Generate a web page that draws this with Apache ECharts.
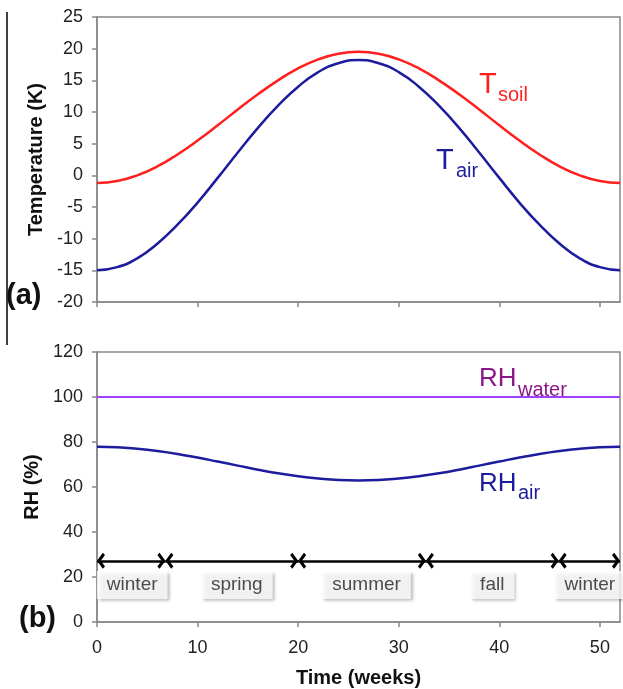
<!DOCTYPE html>
<html>
<head>
<meta charset="utf-8">
<script src="https://cdn.jsdelivr.net/npm/echarts@6/dist/echarts.min.js"></script>
<style>
  html, body { margin: 0; padding: 0; background: #fff; }
  #chart { width: 623px; height: 689px; }
</style>
</head>
<body>
<div id="chart"></div>
<script>
// values (every 2 weeks)
const weeks = [0, 2, 4, 6, 8, 10, 12, 14, 16, 18, 20, 22, 24, 26, 28, 30, 32, 34, 36, 38, 40, 42, 44, 46, 48, 50, 52];
const tAir = [-15.0, -14.5, -13.1, -10.8, -7.8, -4.3, -0.4, 3.6, 7.5, 11.0, 14.0, 16.3, 17.7, 18.2, 17.7, 16.3, 14.0, 11.0, 7.5, 3.6, -0.4, -4.3, -7.8, -10.8, -13.1, -14.5, -15.0];
const tSoil = [-1.2, -0.9, 0.0, 1.4, 3.3, 5.5, 7.9, 10.4, 12.8, 15.0, 16.9, 18.3, 19.2, 19.5, 19.2, 18.3, 16.9, 15.0, 12.8, 10.4, 7.9, 5.5, 3.3, 1.4, 0.0, -0.9, -1.2];
const rhAir = [77.9, 77.7, 77.0, 76.0, 74.7, 73.1, 71.3, 69.5, 67.7, 66.1, 64.8, 63.8, 63.1, 62.9, 63.1, 63.8, 64.8, 66.1, 67.7, 69.5, 71.3, 73.1, 74.7, 76.0, 77.0, 77.7, 77.9];
const rhWaterWeeks = [0, 52];
const rhWater = [100, 100];

const seasonBounds = [0, 6.8, 20, 32.7, 45.9, 52];
const seasonNames = ['winter', 'spring', 'summer', 'fall', 'winter'];
const seasonLabelWeeks = [3.5, 13.9, 26.8, 39.3, 49.0];
const arrowLevel = 27.2;
const labelLevel = 16.4;

const weekTicks = [0, 10, 20, 30, 40, 50];

const font = 'Liberation Sans, Arial, sans-serif';
const axisGray = '#888';
const red = '#ff1f1f';
const blue = '#1c1c9c';
const violet = '#a040ff';
const purple = '#8a178a';

// open arrow head in a 16x16 box, tip at the centre so it sits on the end point
const chevron = 'path://M0,0 L0.01,0 L0,0.01 Z M8,8 L16,13.8 L13.8,16 L8,11.8 L2.2,16 L0,13.8 Z';

const pairs = (xs, ys) => xs.map((x, i) => [x, ys[i]]);

const chart = echarts.init(document.getElementById('chart'));

const xAxisBase = {
  type: 'value',
  min: 0,
  max: 52,
  interval: 10,
  axisLine: { onZero: false, lineStyle: { color: axisGray, width: 1.5 } },
  axisTick: { customValues: weekTicks, length: 5, lineStyle: { color: axisGray, width: 1.5 } },
  splitLine: { show: false }
};

const yAxisBase = {
  type: 'value',
  nameLocation: 'middle',
  nameTextStyle: { fontFamily: font, fontSize: 20, fontWeight: 'bold', color: '#111' },
  axisLine: { show: true, lineStyle: { color: axisGray, width: 1.5 } },
  axisTick: { show: true, length: 5, lineStyle: { color: axisGray, width: 1.5 } },
  axisLabel: { fontFamily: font, fontSize: 18, color: '#222', margin: 14 },
  splitLine: { show: false }
};

const seasonLines = [];
for (let i = 0; i < seasonNames.length; i++) {
  seasonLines.push([
    { coord: [seasonBounds[i], arrowLevel] },
    { coord: [seasonBounds[i + 1], arrowLevel] }
  ]);
}

const option = {
  animation: false,
  backgroundColor: '#fff',
  grid: [
    { left: 97, right: 3, top: 17, height: 285, show: true, borderColor: axisGray, borderWidth: 1.5 },
    { left: 97, right: 3, top: 352, height: 274, show: true, borderColor: axisGray, borderWidth: 1.5 }
  ],
  xAxis: [
    Object.assign({}, xAxisBase, {
      gridIndex: 0,
      axisLabel: { show: false }
    }),
    Object.assign({}, xAxisBase, {
      gridIndex: 1,
      name: 'Time (weeks)',
      nameLocation: 'middle',
      nameGap: 46,
      nameTextStyle: { fontFamily: font, fontSize: 20, fontWeight: 'bold', color: '#111' },
      axisLabel: { customValues: weekTicks, fontFamily: font, fontSize: 18, color: '#222', margin: 17 }
    })
  ],
  yAxis: [
    Object.assign({}, yAxisBase, {
      gridIndex: 0,
      min: -20,
      max: 25,
      interval: 5,
      name: 'Temperature (K)',
      nameGap: 50
    }),
    Object.assign({}, yAxisBase, {
      gridIndex: 1,
      min: 0,
      max: 120,
      interval: 20,
      name: 'RH (%)',
      nameGap: 53
    })
  ],
  series: [
    {
      name: 'T soil', type: 'line', xAxisIndex: 0, yAxisIndex: 0,
      data: pairs(weeks, tSoil), smooth: true, showSymbol: false,
      lineStyle: { color: red, width: 2.5 }
    },
    {
      name: 'T air', type: 'line', xAxisIndex: 0, yAxisIndex: 0,
      data: pairs(weeks, tAir), smooth: true, showSymbol: false,
      lineStyle: { color: blue, width: 2.5 }
    },
    {
      name: 'RH water', type: 'line', xAxisIndex: 1, yAxisIndex: 1,
      data: pairs(rhWaterWeeks, rhWater), showSymbol: false,
      lineStyle: { color: violet, width: 2 }
    },
    {
      name: 'RH air', type: 'line', xAxisIndex: 1, yAxisIndex: 1,
      data: pairs(weeks, rhAir), smooth: true, showSymbol: false,
      lineStyle: { color: blue, width: 2.5 },
      markLine: {
        silent: true,
        symbol: [chevron, chevron],
        symbolSize: 16,
        label: { show: false },
        itemStyle: { color: '#000' },
        lineStyle: { color: '#000', width: 2.7, type: 'solid' },
        data: seasonLines
      }
    },
    {
      name: 'seasons', type: 'scatter', xAxisIndex: 1, yAxisIndex: 1,
      symbolSize: 0, silent: true,
      data: pairs(seasonLabelWeeks, seasonNames.map(() => labelLevel)),
      label: {
        show: true,
        position: 'inside',
        formatter: (p) => seasonNames[p.dataIndex],
        fontFamily: font,
        fontSize: 19,
        color: '#222',
        backgroundColor: '#fff',
        padding: [5, 10, 4, 10],
        shadowColor: 'rgba(0,0,0,0.35)',
        shadowBlur: 3,
        shadowOffsetX: 2,
        shadowOffsetY: 2
      }
    }
  ],
  graphic: [
    { type: 'line', shape: { x1: 7, y1: 12, x2: 7, y2: 345 }, style: { stroke: '#000', lineWidth: 1.5 } },
    { type: 'text', left: 6, top: 281, style: { text: '(a)', fontFamily: font, fontSize: 29, fontWeight: 'bold', fill: '#111' } },
    { type: 'text', left: 19, top: 604, style: { text: '(b)', fontFamily: font, fontSize: 29, fontWeight: 'bold', fill: '#111' } },
    // curve labels with subscripts
    { type: 'text', left: 479, top: 70, style: { text: 'T', fontFamily: font, fontSize: 29, fill: red } },
    { type: 'text', left: 498, top: 85, style: { text: 'soil', fontFamily: font, fontSize: 20, fill: red } },
    { type: 'text', left: 436, top: 146, style: { text: 'T', fontFamily: font, fontSize: 29, fill: blue } },
    { type: 'text', left: 456, top: 161, style: { text: 'air', fontFamily: font, fontSize: 20, fill: blue } },
    { type: 'text', left: 479, top: 366, style: { text: 'RH', fontFamily: font, fontSize: 26, fill: purple } },
    { type: 'text', left: 518, top: 380, style: { text: 'water', fontFamily: font, fontSize: 20, fill: purple } },
    { type: 'text', left: 479, top: 471, style: { text: 'RH', fontFamily: font, fontSize: 26, fill: blue } },
    { type: 'text', left: 518, top: 483, style: { text: 'air', fontFamily: font, fontSize: 20, fill: blue } }
  ]
};

chart.setOption(option);
window.addEventListener('resize', () => chart.resize());
</script>
</body>
</html>
